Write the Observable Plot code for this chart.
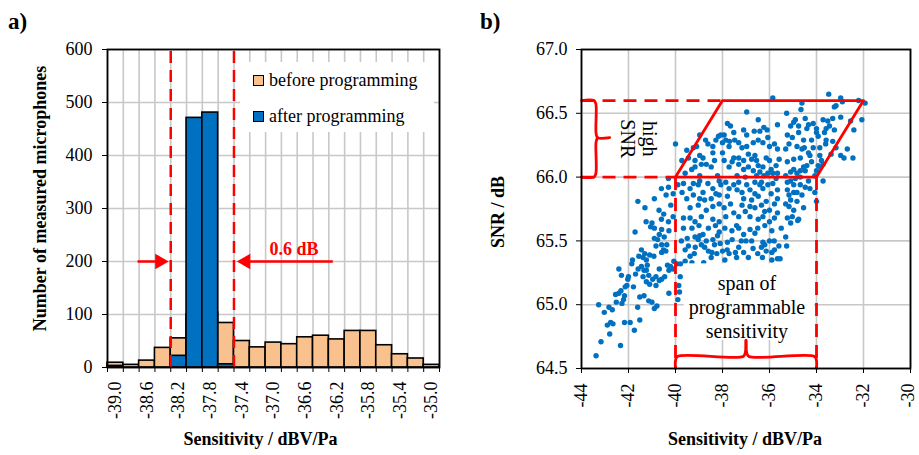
<!DOCTYPE html>
<html><head><meta charset="utf-8">
<script src="https://cdn.jsdelivr.net/npm/d3@7"></script>
<script src="https://cdn.jsdelivr.net/npm/@observablehq/plot@0.6"></script>
<style>
body{margin:0;background:#fff;}
#wrap{position:relative;width:919px;height:455px;font-family:"Liberation Serif","Times New Roman",serif;color:#000;overflow:hidden;}
#pa,#pb{position:absolute;top:0;}
#pa{left:0;} #pb{left:460px;}
#wrap svg text{font-family:"Liberation Serif","Times New Roman",serif !important;}
.lab{position:absolute;font-weight:bold;font-size:23px;line-height:26px;}
#legend{position:absolute;left:240px;top:62px;width:194px;height:70px;background:#fff;font-size:18px;}
.row{position:absolute;left:13px;display:flex;align-items:center;white-space:nowrap;line-height:20px;}
.sw{width:9px;height:9px;border:1px solid #000;margin-right:5px;}
</style></head><body>
<div id="wrap">
<div id="pa"></div><div id="pb"></div>
<div class="lab" style="left:8px;top:9px">a)</div>
<div class="lab" style="left:480px;top:9px">b)</div>
<div id="legend">
 <div class="row" style="top:8px"><div class="sw" style="background:#F9C18E"></div>before programming</div>
 <div class="row" style="top:44px"><div class="sw" style="background:#0070C0"></div>after programming</div>
</div>
</div>
<script>
// ---------- panel a data ----------
const bins = [-39.0,-38.8,-38.6,-38.4,-38.2,-38.0,-37.8,-37.6,-37.4,-37.2,-37.0,-36.8,-36.6,-36.4,-36.2,-36.0,-35.8,-35.6,-35.4,-35.2,-35.0];
const beforeCounts = [9,5,13,37,55,100,104,84,50,38,47,44,57,60,53,69,69,42,25,17,5];
const afterCounts  = [3,0,0,0,22,471,481,6,0,0,0,0,0,0,0,0,0,0,0,0,0];
const yTicksA = [0,100,200,300,400,500,600];
const limitsA = [-38.3,-37.5];
const labelA = "0.6 dB";

// ---------- panel b data (sensitivity dBV/Pa, SNR dB) ----------
const tailPoints = [[-43.38,64.60],[-43.17,64.71],[-42.34,64.68],[-42.8,64.77],[-42.76,64.86],[-42.9,64.84],[-42.66,64.85],[-43.27,65.0],[-43.03,64.94],[-42.83,64.98],[-42.69,64.96],[-42.17,64.86],[-41.93,64.86],[-41.75,64.80],[-41.52,64.88],[-41.61,64.98],[-42.55,65.08],[-42.41,65.09],[-42.52,65.02],[-42.21,65.04],[-42.28,65.01],[-42.17,65.07],[-42.32,65.11],[-42.07,65.15],[-42.14,65.14],[-41.79,65.14],[-42.03,65.20],[-42.41,65.28],[-42.30,65.23],[-42.0,65.22],[-41.70,65.24],[-41.86,65.32],[-41.83,65.35],[-41.72,65.57],[-41.56,65.38],[-41.45,65.43],[-41.38,65.37],[-41.31,65.40],[-41.24,65.35],[-41.10,65.39],[-40.92,65.38],[-41.2,65.31],[-41.34,65.27],[-41.45,65.30],[-41.59,65.28],[-41.24,65.27],[-41.14,65.23],[-41.38,65.22],[-40.97,65.20],[-40.83,65.22],[-40.69,65.28],[-40.59,65.20],[-40.46,65.22],[-40.34,65.31],[-40.21,65.30],[-40.28,65.27],[-40.1,65.28],[-41.24,65.18],[-41.10,65.16],[-40.83,65.15],[-40.69,65.19],[-41.52,65.06],[-41.34,65.07],[-41.14,65.03],[-41.0,65.02],[-40.79,64.99],[-40.90,64.97],[-40.28,65.09],[-40.90,65.52],[-40.76,65.51],[-40.83,65.46],[-40.59,65.47],[-40.51,65.43],[-40.59,65.41],[-40.41,65.42],[-40.37,65.47],[-40.69,65.55],[-40.48,65.53],[-40.28,65.58],[-40.59,65.59],[-40.9,65.60],[-41.06,65.61],[-40.07,65.34],[-39.93,65.32]];
const leftPoints = [[-40.0,66.26],[-41.6,65.81],[-41.3,65.76],[-40.9,65.83],[-40.6,65.91],[-40.3,65.92],[-40.4,65.86],[-40.7,65.74],[-40.5,65.71],[-40.2,65.78],[-40.1,65.87],[-39.9,65.94],[-40.3,65.99],[-41.25,65.65],[-41.0,65.64],[-40.6,65.67],[-40.3,65.65],[-40.1,65.69],[-39.73,66.13]];
const lowMidPoints = [[-39.83,65.10],[-39.86,65.15],[-39.79,65.32],[-39.30,65.33],[-39.16,65.45],[-38.8,65.33],[-38.45,65.41],[-38.0,65.29],[-37.4,65.37],[-36.5,65.40],[-36.3,65.37],[-35.55,65.36],[-35.1,65.64],[-34.8,65.66],[-38.24,65.40],[-37.8,65.43],[-37.0,65.5],[-37.1,65.41],[-36.2,65.47],[-35.9,65.41],[-35.8,65.5],[-35.6,65.46],
[-39.66,65.6],[-39.17,65.53],[-39.03,65.51],[-38.97,65.54],[-38.83,65.55],[-38.69,65.5],[-38.9,65.47],[-38.76,65.45],[-38.41,65.51],[-38.34,65.47],[-38.21,65.54],[-38.14,65.57],[-38.0,65.42],[-37.79,65.49],[-37.59,65.51],[-37.45,65.41],[-37.31,65.45],[-37.1,65.55],[-37.72,65.40],[-38.48,65.37],[-39.38,65.38],[-39.59,65.34],[-36.9,65.37],[-36.76,65.5],[-36.34,65.45],[-36.14,65.42],[-36.28,65.49],[-35.79,65.43],[-35.66,65.36],[-36.62,65.56],[-36.83,65.59],[-37.31,65.60],[-39.59,65.43],[-35.31,65.53],[-35.27,65.46],
[-39.5,65.52],[-39.3,65.6],[-39.0,65.62],[-38.6,65.6],[-38.3,65.62],[-37.9,65.6],[-37.6,65.58],[-37.4,65.62],[-36.5,65.6],[-36.2,65.62],[-35.9,65.58],[-35.5,65.6],[-39.45,65.46],[-39.2,65.4],[-38.6,65.42],[-38.1,65.48],[-37.9,65.35],[-37.2,65.5],[-36.7,65.44],[-36.0,65.5],[-35.9,65.35],[-39.75,65.5],[-39.8,65.22],[-39.9,65.04]];
const midPoints = [[-35.86,66.62],[-36.97,66.51],[-37.79,66.42],[-37.66,66.40],[-36.48,66.45],[-36.10,66.37],[-36.41,66.36],[-35.66,66.41],[-38.97,66.33],[-38.72,66.29],[-38.07,66.33],[-37.93,66.33],[-37.52,66.35],[-37.1,66.37],[-36.97,66.33],[-36.65,66.36],[-36.24,66.39],[-38.62,66.26],[-38.41,66.24],[-38.0,66.27],[-37.70,66.28],[-37.48,66.29],[-37.72,66.24],[-37.31,66.27],[-37.17,66.23],[-36.97,66.24],[-36.69,66.27],[-36.48,66.29],[-36.28,66.27],[-36.07,66.31],[-36.0,66.24],[-35.79,66.26],[-35.66,66.22],[-39.24,66.23],[-39.10,66.24],[-39.52,66.21],[-39.45,66.15],[-38.97,66.17],[-38.83,66.15],[-38.41,66.19],[-38.69,66.10],[-38.48,66.08],[-38.34,66.13],[-38.0,66.19],[-37.93,66.13],[-37.72,66.08],[-37.59,66.12],[-37.31,66.15],[-37.31,66.10],[-37.1,66.13],[-36.9,66.18],[-36.76,66.14],[-36.62,66.17],[-36.55,66.13],[-36.48,66.09],[-36.41,66.04],[-36.28,66.08],[-36.14,66.15],[-36.0,66.13],[-35.93,66.06],[-35.72,66.09],[-35.59,66.14],[-36.9,66.08],[-37.38,66.01],[-37.03,66.0],[-36.07,66.03],[-39.17,66.08],[-38.21,66.01],[-38.97,66.01],
[-39.66,65.95],[-39.38,65.91],[-39.72,65.88],[-39.52,65.83],[-39.24,65.86],[-39.03,65.94],[-38.83,65.88],[-38.62,65.95],[-38.41,65.91],[-38.76,65.82],[-38.48,65.83],[-38.28,65.87],[-38.07,65.94],[-37.86,65.96],[-37.72,65.91],[-37.52,65.94],[-37.31,65.96],[-37.38,65.90],[-37.17,65.88],[-36.97,65.94],[-36.83,65.90],[-36.62,65.87],[-36.41,65.94],[-36.28,65.91],[-36.07,65.94],[-35.86,65.95],[-35.66,65.90],[-35.93,65.87],[-39.38,65.76],[-39.03,65.78],[-38.69,65.74],[-38.14,65.79],[-37.93,65.76],[-37.66,65.79],[-37.86,65.69],[-37.52,65.72],[-37.17,65.78],[-37.03,65.73],[-36.83,65.69],[-36.62,65.76],[-36.34,65.78],[-36.14,65.81],[-36.21,65.73],[-36.0,65.74],[-35.79,65.79],[-35.66,65.72],[-39.66,65.68],[-39.17,65.65],[-38.41,65.67],[-38.14,65.65],[-36.48,65.67],[-36.0,65.65],
[-39.31,66.06],[-39.17,66.13],[-39.59,66.03],[-38.9,66.10],[-38.28,66.29],[-38.17,66.32],[-37.86,66.29],[-37.52,66.15],[-37.1,66.06],[-36.69,66.05],[-36.55,66.01],[-36.24,66.01],[-35.86,66.03],[-35.66,66.03],[-35.72,65.99],[-36.34,65.96],[-36.62,65.96],[-38.14,65.97],[-38.97,65.97],[-39.24,65.95],[-38.14,65.86],[-37.79,65.85],[-37.1,65.83],[-36.76,65.82],[-36.48,65.85],[-35.66,65.83],[-38.97,65.83],[-38.41,65.77],[-37.31,65.69],[-36.28,65.69],[-35.79,65.68],[-38.9,65.69],[-39.38,65.68],[-36.83,65.77]];
const rightPoints = [[-33.48,66.65],[-32.97,66.62],[-32.90,66.59],[-33.17,66.56],[-33.24,66.55],[-34.62,66.58],[-34.66,66.53],[-32.21,66.60],[-31.93,66.58],[-32.07,66.45],[-35.27,66.5],[-34.9,66.45],[-34.97,66.43],[-34.48,66.46],[-34.76,66.40],[-34.34,66.41],[-34.41,66.38],[-34.14,66.42],[-34.0,66.38],[-33.72,66.45],[-33.52,66.44],[-33.31,66.46],[-33.59,66.38],[-33.45,66.40],[-33.24,66.37],[-32.97,66.47],[-32.55,66.44],[-32.41,66.37],[-34.0,66.35],[-33.93,66.32],[-33.66,66.35],[-35.24,66.33],[-35.03,66.31],[-35.17,66.26],[-34.83,66.24],[-34.62,66.22],[-34.52,66.23],[-34.34,66.19],[-34.14,66.23],[-33.86,66.23],[-33.61,66.26],[-33.17,66.23],[-33.38,66.18],[-32.97,66.17],[-32.83,66.15],[-32.45,66.15],[-35.31,66.22],[-34.28,66.17],[-34.21,66.12],[-33.86,66.17],[-33.79,66.13],[-33.93,66.09],[-33.72,66.10],[-34.0,66.05],[-33.83,66.08],[-34.41,66.09],[-34.55,66.08],[-34.69,66.05],[-34.48,66.05],[-34.83,66.03],[-34.97,66.06],[-35.1,66.04],[-35.31,66.01],[-34.9,65.99],[-34.69,66.0],[-35.1,65.97],[-35.24,65.96],[-33.72,65.97],[-34.48,65.92],[-34.28,65.91],[-34.07,65.88],[-35.24,65.90],[-34.97,65.88],[-34.83,65.88],[-35.1,65.82],[-35.31,65.79],[-35.17,65.77],[-34.55,65.76],[-34.0,65.81],[-34.76,65.67],[-35.03,65.69],
[-35.1,66.40],[-34.76,66.35],[-34.55,66.29],[-34.21,66.29],[-33.59,66.29],[-33.31,66.28],[-32.69,66.22],[-34.69,66.15],[-34.97,66.14],[-35.24,66.12],[-34.07,66.01],[-34.34,65.97],[-34.69,65.94],[-34.97,65.94],[-34.62,65.86],[-35.17,65.86],[-34.83,65.81],[-34.97,65.74],[-35.24,65.68]];
const xTicksB = [-44,-42,-40,-38,-36,-34,-32,-30];
const yTicksB = [64.5,65.0,65.5,66.0,66.5,67.0];

const serif = "Liberation Serif, Times New Roman, serif";
const RED = "#FF0000";

// ---------- panel a ----------
const hist = bins.map((b,i)=>({bin:b, before:beforeCounts[i], after:afterCounts[i]}));
const bounds = d3.range(22).map(i => Math.round((-39.1 + i*0.2)*10)/10);
const labeledBins = bins.filter((d,i)=>i%2===0);

const A = Plot.plot({
  width:460, height:455, marginLeft:107, marginRight:21, marginTop:49, marginBottom:88,
  style:{fontFamily:serif, fontSize:"18px", background:"transparent", color:"#000"},
  x:{domain:[-39.1,-34.9]},
  y:{domain:[0,600]},
  marks:[
    Plot.gridX(bounds, {stroke:"#c8c8c8", strokeOpacity:1, strokeWidth:1.6}),
    Plot.gridY(yTicksA, {stroke:"#c8c8c8", strokeOpacity:1, strokeWidth:1.6}),
    Plot.rect(hist, {x1:d=>d.bin-0.1, x2:d=>d.bin+0.1, y1:0, y2:"before", fill:"#F9C18E", stroke:"#000", strokeWidth:1.6}),
    Plot.rect(hist.filter(d=>d.after>0), {x1:d=>d.bin-0.1, x2:d=>d.bin+0.1, y1:0, y2:"after", fill:"#0070C0", stroke:"#000", strokeWidth:1.6}),
    Plot.ruleX(limitsA, {y1:0, y2:600, stroke:RED, strokeWidth:2.5, strokeDasharray:"12,7"}),
    Plot.link([{a:-38.72,b:-38.40},{a:-36.25,b:-37.40}], {x1:"a", x2:"b", y1:200, y2:200, stroke:RED, strokeWidth:2.5}),
    Plot.dot([-38.44], {x:d=>d, y:200, symbol:"triangle", r:5.8, rotate:90, fill:RED, stroke:"none"}),
    Plot.dot([-37.35], {x:d=>d, y:200, symbol:"triangle", r:5.8, rotate:-90, fill:RED, stroke:"none"}),
    Plot.text([labelA], {x:-36.74, y:223, text:d=>d, fill:RED, fontWeight:"bold", fontSize:18}),
    Plot.frame({stroke:"#000", strokeWidth:1.8}),
    Plot.axisY({ticks:yTicksA, tickSize:5, tickPadding:10, tickFormat:d=>String(d), label:null}),
    Plot.axisX({ticks:bounds, tickSize:5, tickFormat:()=>"", label:null}),
    Plot.axisX({ticks:labeledBins, tickSize:0, tickPadding:14, tickRotate:-90, tickFormat:d=>d.toFixed(1), label:null}),
    Plot.text(["Number of measured microphones"], {frameAnchor:"left", dx:-67, dy:-10, rotate:-90, textAnchor:"middle", text:d=>d, fontWeight:"bold", fontSize:18}),
    Plot.text(["Sensitivity / dBV/Pa"], {frameAnchor:"bottom", dx:-13, dy:77, text:d=>d, fontWeight:"bold", fontSize:18})
  ]
});
document.getElementById("pa").appendChild(A);

// ---------- panel b ----------
const pts = [...tailPoints, ...leftPoints, ...lowMidPoints, ...midPoints, ...rightPoints];
const para = [[-40,66.0],[-38,66.6],[-32,66.6],[-34,66.0],[-40,66.0]];
const dashedSegs = [
  {x1:-44,x2:-38,y1:66.6,y2:66.6},{x1:-44,x2:-40,y1:66.0,y2:66.0},
  {x1:-40,x2:-40,y1:66.0,y2:64.5},{x1:-34,x2:-34,y1:66.0,y2:64.5}];
const braceParts = [
  {g:1,p:[[-44,66.6],[-43.47,66.6],[-43.39,66.575],[-43.38,66.345],[-43.32,66.31],[-42.8,66.31]]},
  {g:2,p:[[-44,66.0],[-43.47,66.0],[-43.39,66.025],[-43.38,66.275],[-43.32,66.31]]},
  {g:3,p:[[-40,64.5],[-40,64.56],[-39.92,64.594],[-37.12,64.594],[-37.03,64.625],[-37.0,64.72]]},
  {g:4,p:[[-34,64.5],[-34,64.56],[-34.08,64.594],[-36.88,64.594],[-36.97,64.625],[-37.0,64.72]]}
].flatMap(o=>o.p.map(([x,y])=>({g:o.g,x,y})));

const B = Plot.plot({
  width:459, height:455, marginLeft:121, marginRight:9, marginTop:49, marginBottom:87,
  style:{fontFamily:serif, fontSize:"18px", background:"transparent", color:"#000"},
  x:{domain:[-44,-30]},
  y:{domain:[64.5,67]},
  marks:[
    Plot.gridX(xTicksB, {stroke:"#c8c8c8", strokeOpacity:1, strokeWidth:1.6}),
    Plot.gridY(yTicksB, {stroke:"#c8c8c8", strokeOpacity:1, strokeWidth:1.6}),
    Plot.dot(pts, {x:d=>d[0], y:d=>d[1], r:2.7, fill:"#0070C0", stroke:"none"}),
    Plot.rect([0], {x1:-39.63, x2:-34.08, y1:64.72, y2:65.32, fill:"#fff"}),
    Plot.link(dashedSegs, {x1:"x1", x2:"x2", y1:"y1", y2:"y2", stroke:RED, strokeWidth:2.8, strokeDasharray:"13,8"}),
    Plot.line(para, {x:d=>d[0], y:d=>d[1], stroke:RED, strokeWidth:2.8}),
    Plot.line(braceParts, {x:"x", y:"y", z:"g", stroke:RED, strokeWidth:2.8, curve:"catmull-rom"}),
    Plot.text(["high\nSNR"], {x:-41.55, y:66.3, text:d=>d, rotate:90, fontSize:20, lineHeight:1.08}),
    Plot.text(["span of\nprogrammable\nsensitivity"], {x:-36.96, y:64.99, text:d=>d, fontSize:20, lineHeight:1.2}),
    Plot.frame({stroke:"#000", strokeWidth:1.8}),
    Plot.axisY({ticks:yTicksB, tickSize:5, tickPadding:9, tickFormat:d=>d.toFixed(1), label:null}),
    Plot.axisX({ticks:xTicksB, tickSize:5, tickPadding:10, tickRotate:-90, tickFormat:d=>(d===-30?"":String(d)), label:null}),
    Plot.axisX({ticks:[-30], tickSize:0, tickPadding:15, tickRotate:-90, dx:-2, tickFormat:d=>String(d), label:null}),
    Plot.text(["SNR / dB"], {frameAnchor:"left", dx:-83, dy:3, rotate:-90, textAnchor:"middle", text:d=>d, fontWeight:"bold", fontSize:18}),
    Plot.text(["Sensitivity / dBV/Pa"], {frameAnchor:"bottom", dx:-1, dy:76, text:d=>d, fontWeight:"bold", fontSize:18})
  ]
});
document.getElementById("pb").appendChild(B);
</script>
</body></html>
